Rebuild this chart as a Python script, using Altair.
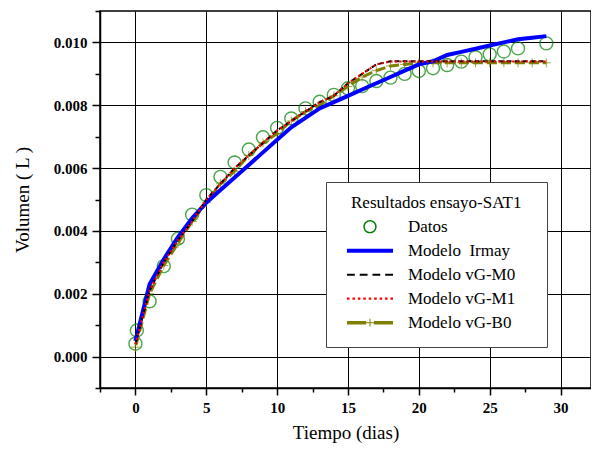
import altair as alt
import pandas as pd

# ---------------- data ----------------
t_datos = [0.0, 0.1, 1, 2, 3, 4, 5, 6, 7, 8, 9, 10, 11, 12, 13, 14, 15, 16, 17,
           18, 19, 20, 21, 22, 23, 24, 25, 26, 27, 29]
v_datos = [0.00041, 0.00083, 0.00176, 0.00288, 0.00375, 0.00452, 0.00514, 0.00572,
           0.00618, 0.00659, 0.00698, 0.00728, 0.00758, 0.00790, 0.00811, 0.00833,
           0.00854, 0.00861, 0.00877, 0.00888, 0.00900, 0.00909, 0.00918, 0.00928,
           0.00939, 0.00953, 0.00962, 0.00971, 0.00981, 0.00997]

t_model = list(range(0, 30))
v_irmay = [0.0005, 0.0023, 0.0031, 0.0038, 0.0044, 0.0049, 0.0053, 0.0057, 0.0061,
           0.0065, 0.0069, 0.0073, 0.0076, 0.0079, 0.0081, 0.0083, 0.0085, 0.0087,
           0.0089, 0.0091, 0.0093, 0.0094, 0.0096, 0.0097, 0.0098, 0.0099, 0.0100,
           0.0101, 0.01015, 0.0102]
v_m0 = [0.0004, 0.0021, 0.0030, 0.0037, 0.0043, 0.0050, 0.0055, 0.0060, 0.0064,
        0.0068, 0.0072, 0.0075, 0.0078, 0.0081, 0.0083, 0.0087, 0.0090, 0.0093,
        0.0094, 0.0094, 0.0094, 0.0094, 0.0094, 0.0094, 0.0094, 0.0094, 0.0094,
        0.0094, 0.0094, 0.0094]
v_m1 = [0.0004, 0.0021, 0.0030, 0.0037, 0.0043, 0.0050, 0.0055, 0.0060, 0.0064,
        0.0068, 0.0072, 0.0075, 0.0078, 0.0081, 0.0083, 0.0087, 0.0090, 0.0093,
        0.00939, 0.00939, 0.00939, 0.00939, 0.00939, 0.00939, 0.00939, 0.00939,
        0.00939, 0.00939, 0.00939, 0.00939]
v_b0 = [0.0003, 0.0020, 0.0029, 0.0036, 0.0043, 0.0049, 0.0055, 0.0059, 0.0064,
        0.0068, 0.0071, 0.0075, 0.0078, 0.0080, 0.0083, 0.0086, 0.0089, 0.0091,
        0.00925, 0.0093, 0.00935, 0.00935, 0.00935, 0.00935, 0.00935, 0.00935,
        0.00935, 0.00935, 0.00935, 0.00935]

series_names = ["Datos", "Modelo\u00a0\u00a0Irmay", "Modelo vG-M0", "Modelo vG-M1", "Modelo vG-B0"]
series_colors = ["#008000", "#0000ff", "#000000", "#ff0000", "#808000"]

x_ticks = [-2.5, 0, 2.5, 5, 7.5, 10, 12.5, 15, 17.5, 20, 22.5, 25, 27.5, 30]
y_ticks = [-0.001, 0.0, 0.001, 0.002, 0.003, 0.004, 0.005, 0.006, 0.007, 0.008,
           0.009, 0.010, 0.011]

rows = [{"t": t, "v": v, "serie": series_names[0]} for t, v in zip(t_datos, v_datos)]
for name, vals in zip(series_names[1:], [v_irmay, v_m0, v_m1, v_b0]):
    rows += [{"t": t, "v": v, "serie": name} for t, v in zip(t_model, vals)]
df = pd.DataFrame(rows)

# ---------------- legend symbol shapes (SVG paths in the -1..1 box) ----------------
def rect(x0, x1, h):
    return f"M{x0:.3f},{-h:.3f}H{x1:.3f}V{h:.3f}H{x0:.3f}Z"

def dashes(n, d, h):
    g = (2 - n * d) / (n - 1)
    return "".join(rect(-1 + i * (d + g), -1 + i * (d + g) + d, h) for i in range(n))

ring = ("M-0.29,0A0.29,0.29,0,1,0,0.29,0A0.29,0.29,0,1,0,-0.29,0Z"
        "M-0.225,0A0.225,0.225,0,1,1,0.225,0A0.225,0.225,0,1,1,-0.225,0Z")
shape_irmay = rect(-1, 1, 0.085)
shape_m0 = dashes(4, 0.34, 0.045)
shape_m1 = dashes(9, 0.11, 0.05)
shape_b0 = (rect(-1, -0.17, 0.075) + rect(0.17, 1, 0.075)
            + rect(-0.17, 0.17, 0.02) + "M-0.022,-0.17H0.022V0.17H-0.022Z")
legend_shapes = [ring, shape_irmay, shape_m0, shape_m1, shape_b0]

plus_path = "M-1,0H1M0,-1V1"

SERIF = "Liberation Serif"
BLANK = "\u2800"  # blank glyph, widens the legend box like the original's margins

x_major = "abs(datum.value % 5) < 0.01"
y_major = "abs(round(datum.value * 1000) % 2) == 0"

x_enc = alt.X(
    "t:Q",
    scale=alt.Scale(domain=[-2.5, 32.15], nice=False, zero=False),
    axis=alt.Axis(
        title="Tiempo (dias)",
        values=x_ticks,
        labelExpr=f"{x_major} ? format(datum.value, 'd') : ''",
        tickSize={"condition": {"test": x_major, "value": 7}, "value": 4},
        gridOpacity={"condition": {"test": x_major, "value": 1}, "value": 0},
        labelPadding=5,
        titlePadding=8,
    ),
)
y_enc = alt.Y(
    "v:Q",
    scale=alt.Scale(domain=[-0.001, 0.011], nice=False, zero=False),
    axis=alt.Axis(
        title="Volumen ( L )",
        values=y_ticks,
        labelExpr=f"{y_major} && datum.value > -0.0005 && datum.value < 0.0105 ? format(datum.value, '.3f') : ''",
        tickSize={"condition": {"test": y_major, "value": 8}, "value": 5},
        gridOpacity={"condition": {"test": y_major, "value": 1}, "value": 0},
        labelPadding=5,
        titlePadding=21,
    ),
)

base = alt.Chart(df).encode(x=x_enc, y=y_enc)

def only(name):
    return alt.datum.serie == name

datos = base.transform_filter(only(series_names[0])).mark_point(
    shape="circle", filled=False, size=169, strokeWidth=1.4, color=series_colors[0])
b0_line = base.transform_filter(only(series_names[4])).mark_line(
    color=series_colors[4], strokeWidth=3, strokeDash=[10, 4], strokeDashOffset=12)
b0_pts = base.transform_filter(only(series_names[4])).mark_point(
    shape=plus_path, size=81, filled=False, strokeWidth=1, color=series_colors[4])
irmay = base.transform_filter(only(series_names[1])).mark_line(
    color=series_colors[1], strokeWidth=4)
m0 = base.transform_filter(only(series_names[2])).mark_line(
    color=series_colors[2], strokeWidth=2, strokeDash=[5, 3])
m1 = base.transform_filter(only(series_names[3])).mark_line(
    color=series_colors[3], strokeWidth=2, strokeDash=[2, 2.5])

leg = alt.Legend(
    title=BLANK + "Resultados ensayo-SAT1" + BLANK,
    orient="none", legendX=226, legendY=171, direction="vertical",
    padding=13, fillColor="white", strokeColor="#444444",
    titleFont=SERIF, titleFontSize=17, titleFontWeight="normal", titleColor="black",
    titleAnchor="start", titlePadding=4, titleLimit=400,
    labelFont=SERIF, labelFontSize=17, labelColor="black", labelOffset=15,
    labelLimit=300,
    symbolOffset=8, symbolSize=2116, symbolStrokeWidth=0, symbolOpacity=1,
    clipHeight=21.4, rowPadding=2,
)
legend_layer = base.transform_filter("datum.t == 0").mark_point(
    filled=True, opacity=0).encode(
    color=alt.Color("serie:N", scale=alt.Scale(domain=series_names, range=series_colors), legend=leg),
    shape=alt.Shape("serie:N", scale=alt.Scale(domain=series_names, range=legend_shapes), legend=leg),
)

chart = alt.layer(datos, b0_line, b0_pts, irmay, m0, m1, legend_layer).properties(
    width=491, height=377,
    autosize=alt.AutoSizeParams(type="none"),
    padding={"left": 92, "top": 3, "right": 0, "bottom": 55},
    background="white",
).configure_view(
    stroke="black", strokeWidth=1.5,
).configure_axis(
    grid=True, gridColor="black", gridWidth=1,
    domainColor="black", domainWidth=1.5,
    tickColor="black", tickWidth=1.5,
    labelFont=SERIF, labelFontSize=15, labelFontWeight="bold", labelColor="black",
    labelFlush=False, labelOverlap=False,
    titleFont=SERIF, titleFontSize=19, titleFontWeight="normal", titleColor="black",
)

chart.save("out.html", embed_options={"renderer": "svg", "actions": False})
